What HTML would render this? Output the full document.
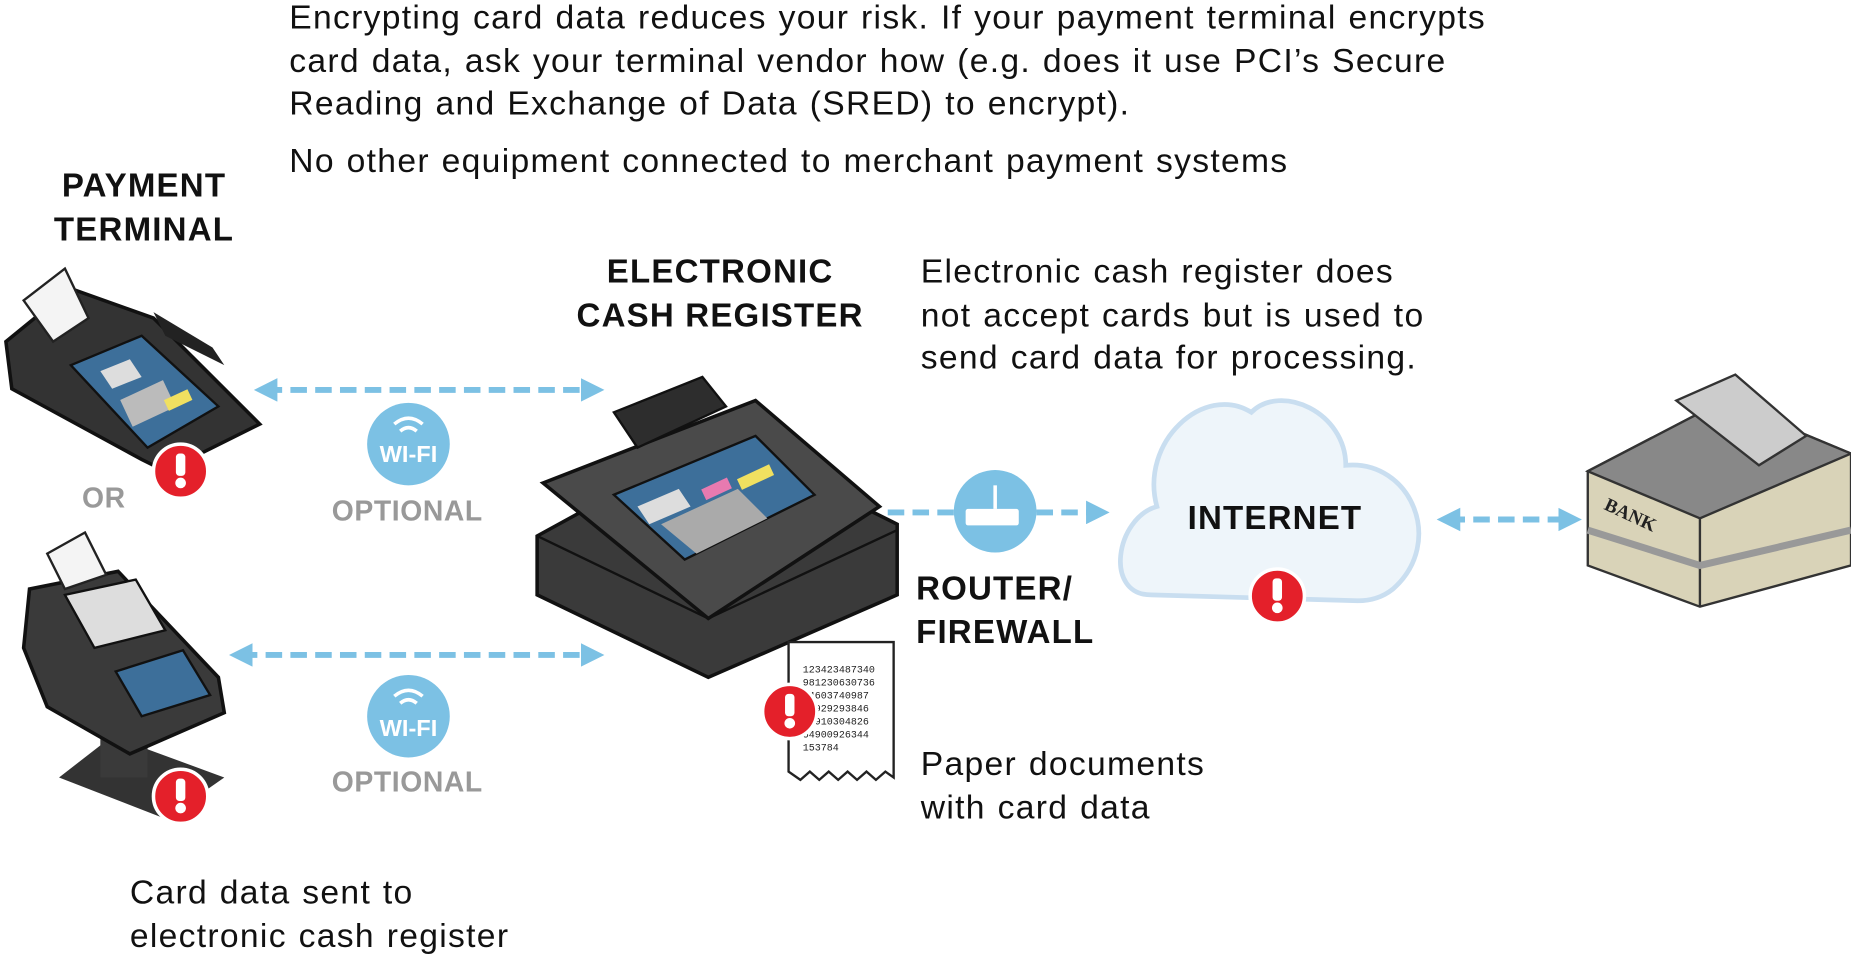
<!DOCTYPE html>
<html><head><meta charset="utf-8"><style>
html,body{margin:0;padding:0;background:#fff;overflow:hidden}
#w{position:absolute;left:0;top:0;width:1568px;height:815px;transform:scale(1.1805,1.178);transform-origin:0 0;font-family:"Liberation Sans",sans-serif}
.t{position:absolute;white-space:nowrap;font-size:28.5px;letter-spacing:1.1px;word-spacing:1px;color:#111;line-height:36.5px}
.b{position:absolute;white-space:nowrap;font-weight:bold;font-size:28px;letter-spacing:1px;color:#111;line-height:36.5px;text-align:center}
.g{position:absolute;white-space:nowrap;font-weight:bold;font-size:24px;letter-spacing:0.5px;color:#999;text-align:center}
svg{position:absolute;left:0;top:0}
</style></head><body><div id="w">
<svg width="1568" height="815" viewBox="0 0 1568 815">
<defs>
<g id="alert"><circle r="23" fill="#e4202a" stroke="#fff" stroke-width="3"/><rect x="-4" y="-15" width="8" height="19" rx="3" fill="#fff"/><circle cy="10" r="4.5" fill="#fff"/></g>
<marker id="ah" markerWidth="4" markerHeight="4" refX="2" refY="2" orient="auto-start-reverse" markerUnits="strokeWidth"><path d="M0,0 L4,2 L0,4 z" fill="#7cc1e4"/></marker>
</defs>
<g stroke="#7cc1e4" stroke-width="5" stroke-dasharray="14,7" fill="none">
<line x1="225" y1="331" x2="502" y2="331" marker-start="url(#ah)" marker-end="url(#ah)"/>
<line x1="204" y1="556" x2="502" y2="556" marker-start="url(#ah)" marker-end="url(#ah)"/>
<line x1="752" y1="435" x2="930" y2="435" marker-end="url(#ah)"/>
<line x1="1227" y1="441" x2="1330" y2="441" marker-start="url(#ah)" marker-end="url(#ah)"/>
</g>
<!-- terminal 1 -->
<path d="M5,290 L60,245 L130,270 L220,360 L140,400 L120,390 L10,330 Z" fill="#333" stroke="#111" stroke-width="3"/>
<path d="M60,310 L120,285 L185,345 L125,380 Z" fill="#3d6f9a" stroke="#111" stroke-width="2"/>
<path d="M85,315 L110,305 L120,320 L95,330 Z" fill="#ddd"/>
<g fill="#bbb"><rect x="105" y="330" width="40" height="25" transform="rotate(-25 125 342)"/></g>
<rect x="140" y="335" width="22" height="10" fill="#f0e060" transform="rotate(-25 150 340)"/>
<path d="M20,255 L55,228 L75,270 L45,290 Z" fill="#f4f4f4" stroke="#222" stroke-width="2"/>
<path d="M130,265 L180,295 L190,310 L140,285Z" fill="#222"/>
<!-- terminal 2 -->
<path d="M50,660 L95,625 L190,660 L140,695 Z" fill="#333"/>
<rect x="85" y="600" width="40" height="60" fill="#3a3a3a"/>
<path d="M25,500 L100,485 L185,575 L190,605 L110,640 L40,600 L20,550 Z" fill="#3a3a3a" stroke="#111" stroke-width="3"/>
<path d="M55,505 L115,492 L140,535 L80,550 Z" fill="#ddd" stroke="#111" stroke-width="2"/>
<path d="M98,570 L155,552 L178,590 L120,608 Z" fill="#3d6f9a" stroke="#111" stroke-width="2"/>
<path d="M40,470 L72,452 L90,488 L55,500Z" fill="#f4f4f4" stroke="#222" stroke-width="2"/>
<!-- ECR -->
<path d="M455,455 L610,370 L760,445 L760,505 L600,575 L455,505 Z" fill="#3a3a3a" stroke="#111" stroke-width="3"/>
<path d="M455,455 L600,525 L760,450" fill="none" stroke="#111" stroke-width="2"/>
<path d="M460,410 L640,340 L745,430 L600,525 Z" fill="#4a4a4a" stroke="#111" stroke-width="3"/>
<path d="M520,420 L640,370 L690,420 L580,475 Z" fill="#3d6f9a" stroke="#111" stroke-width="2"/>
<path d="M540,430 L575,415 L585,430 L550,445Z" fill="#ddd"/>
<path d="M560,445 L625,415 L650,440 L590,470Z" fill="#aaa"/>
<rect x="625" y="400" width="30" height="10" fill="#f0e060" transform="rotate(-25 640 405)"/>
<rect x="595" y="410" width="24" height="10" fill="#e87ab0" transform="rotate(-25 607 415)"/>
<path d="M520,350 L595,320 L615,345 L540,380 Z" fill="#2d2d2d" stroke="#111" stroke-width="2"/>
<!-- receipt -->
<path d="M668,545 L757,545 L757,660 L750,655 L742,662 L734,655 L726,662 L718,655 L710,662 L702,655 L694,662 L686,655 L678,662 L668,655 Z" fill="#fff" stroke="#222" stroke-width="2"/>
<g font-family="Liberation Mono,monospace" font-size="8.5" fill="#222"><text x="680" y="571">123423487340</text><text x="680" y="582">981230630736</text><text x="680" y="593">34603740987</text><text x="680" y="604">92929293846</text><text x="680" y="615">92910304826</text><text x="680" y="626">54900926344</text><text x="680" y="637">153784</text></g>
<!-- wifi circles -->
<g fill="#7cc1e4"><circle cx="346" cy="377" r="35"/><circle cx="346" cy="608" r="35"/><circle cx="843" cy="434" r="35"/></g>
<g fill="none" stroke="#fff" stroke-width="3"><path d="M334,360 Q346,350 358,360"/><path d="M339,366 Q346,360 353,366"/><path d="M334,591 Q346,581 358,591"/><path d="M339,597 Q346,591 353,597"/></g>
<rect x="818" y="432" width="45" height="14" rx="2" fill="#fff"/><line x1="843" y1="432" x2="843" y2="412" stroke="#fff" stroke-width="3"/>
<!-- cloud -->
<path d="M975,505 C935,505 945,440 980,430 C965,375 1020,325 1060,350 C1085,325 1140,350 1140,395 C1195,390 1225,460 1180,500 C1170,508 1160,510 1150,510 Z" fill="#eef5fa" stroke="#c9def0" stroke-width="4"/>
<!-- bank -->
<path d="M1345,400 L1460,340 L1568,385 L1568,480 L1440,515 L1345,480 Z" fill="#d9d3b8" stroke="#333" stroke-width="2"/>
<path d="M1345,400 L1460,340 L1568,385 L1440,440 Z" fill="#888" stroke="#333" stroke-width="2"/>
<path d="M1420,340 L1470,318 L1530,370 L1490,395 Z" fill="#ccc" stroke="#333" stroke-width="2"/>
<line x1="1440" y1="440" x2="1440" y2="515" stroke="#333" stroke-width="2"/>
<path d="M1345,450 L1440,480 L1568,450" fill="none" stroke="#999" stroke-width="6"/>
<text x="1358" y="432" font-family="Liberation Serif,serif" font-weight="bold" font-size="16" fill="#222" transform="rotate(25 1358 432)">BANK</text>
<use href="#alert" x="153" y="400"/><use href="#alert" x="153" y="676"/><use href="#alert" x="669" y="604"/><use href="#alert" x="1082" y="506"/>
<g font-weight="bold" fill="#fff" font-size="20" text-anchor="middle" font-family="Liberation Sans,sans-serif"><text x="346" y="392">WI-FI</text><text x="346" y="625">WI-FI</text></g>
</svg>
<div class="t" style="left:245px;top:-3px">Encrypting card data reduces your risk. If your payment terminal encrypts<br>card data, ask your terminal vendor how (e.g. does it use PCI’s Secure<br>Reading and Exchange of Data (SRED) to encrypt).</div>
<div class="t" style="left:245px;top:119px">No other equipment connected to merchant payment systems</div>
<div class="b" style="left:22px;top:140px;width:200px">PAYMENT<br>TERMINAL</div>
<div class="g" style="left:48px;top:410px;width:80px">OR</div>
<div class="g" style="left:265px;top:421px;width:160px">OPTIONAL</div>
<div class="g" style="left:265px;top:651px;width:160px">OPTIONAL</div>
<div class="b" style="left:470px;top:213px;width:280px">ELECTRONIC<br>CASH REGISTER</div>
<div class="t" style="left:780px;top:213px">Electronic cash register does<br>not accept cards but is used to<br>send card data for processing.</div>
<div class="b" style="left:776px;top:482px;text-align:left">ROUTER/<br>FIREWALL</div>
<div class="b" style="left:980px;top:422px;width:200px">INTERNET</div>
<div class="t" style="left:780px;top:631px">Paper documents<br>with card data</div>
<div class="t" style="left:110px;top:740px">Card data sent to<br>electronic cash register</div>
</div></body></html>
